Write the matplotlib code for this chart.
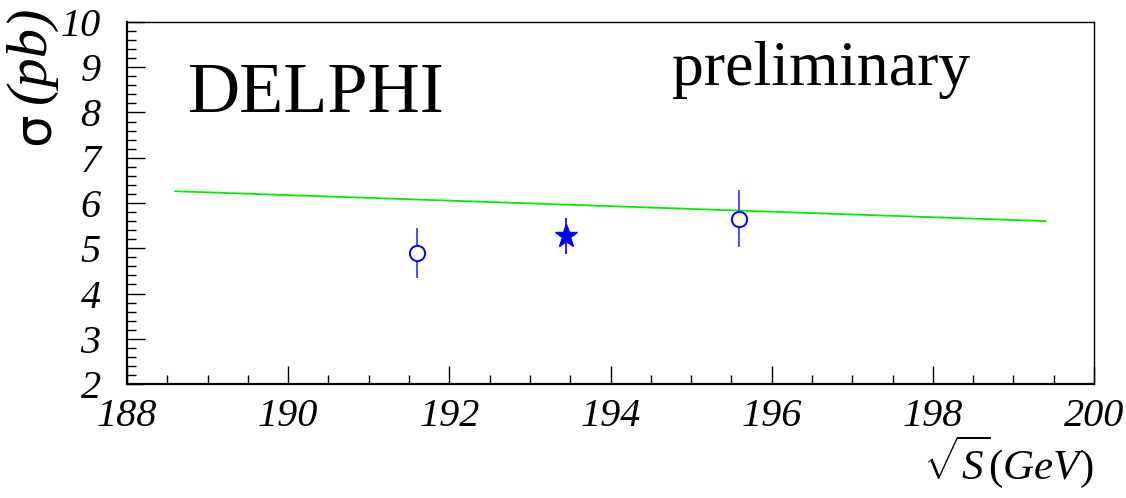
import numpy as np
import matplotlib
matplotlib.use('Agg')
import matplotlib.pyplot as plt
from matplotlib.ticker import MultipleLocator

# ------ данные ------
# измерения (открытые кружки)
sqrt_s = [191.6, 195.6]
sigma = [4.90, 5.65]
sigma_err = [0.55, 0.63]

# комбинированная точка (звезда)
star_sqrt_s = [193.45]
star_sigma = [5.27]
star_err = [0.40]

# теоретическое предсказание (прямая)
pred_sqrt_s = [188.6, 199.4]
pred_sigma = [6.26, 5.60]

plt.rcParams['mathtext.fontset'] = 'custom'
plt.rcParams['mathtext.rm'] = 'Liberation Serif'
plt.rcParams['mathtext.it'] = 'Liberation Serif:italic'

serif = 'Liberation Serif'

fig = plt.figure(figsize=(11.26, 4.98), dpi=100)
ax = fig.add_axes([127/1126, 1 - 384/498, (1094 - 127)/1126, (384 - 22)/498])

ax.plot(pred_sqrt_s, pred_sigma, '-', color='#00ee00', lw=1.3, zorder=2)

ax.errorbar(sqrt_s, sigma, yerr=sigma_err, fmt='o', color='#3030ff',
            mfc='white', mec='#0000ff', mew=1.4, ms=11, elinewidth=1.2,
            capsize=0, zorder=3)
ax.errorbar(star_sqrt_s, star_sigma, yerr=star_err, fmt='*', color='#0000ff',
            ms=17, elinewidth=1.2, capsize=0, zorder=3)

ax.set_xlim(188, 200)
ax.set_ylim(2, 10)
ax.xaxis.set_major_locator(MultipleLocator(2))
ax.xaxis.set_minor_locator(MultipleLocator(0.5))
ax.yaxis.set_major_locator(MultipleLocator(1))
ax.yaxis.set_minor_locator(MultipleLocator(0.2))

ax.tick_params(which='both', direction='in', top=False, right=False,
               width=1.0, color='black')
ax.tick_params(which='major', length=13)
ax.tick_params(which='minor', length=6.5)
ax.tick_params(axis='x', pad=10)
ax.tick_params(axis='y', pad=19)

for lab in ax.get_xticklabels() + ax.get_yticklabels():
    lab.set_fontfamily(serif)
    lab.set_fontstyle('italic')
    lab.set_fontsize(29)

for side in ['left', 'bottom']:
    ax.spines[side].set_linewidth(1.6)
for side in ['top', 'right']:
    ax.spines[side].set_linewidth(1.0)

# подписи осей
fig.text(1093/1126, 1 - 479/498, r'$\sqrt{S}(GeV)$', ha='right', va='baseline',
         fontsize=31)
fig.text(35/1126, 1 - 129/498, 'σ', rotation=90, ha='center', va='center',
         fontsize=37, fontfamily='DejaVu Sans')
fig.text(31/1126, 1 - 54/498, '(pb)', rotation=90, ha='center', va='center',
         fontsize=42, fontfamily=serif, fontstyle='italic')

fig.text(188/1126, 1 - 112/498, 'DELPHI', ha='left', va='baseline',
         fontsize=52, fontfamily=serif)
fig.text(672/1126, 1 - 85/498, 'preliminary', ha='left', va='baseline',
         fontsize=46, fontfamily=serif)

fig.savefig('out.png', dpi=100)
